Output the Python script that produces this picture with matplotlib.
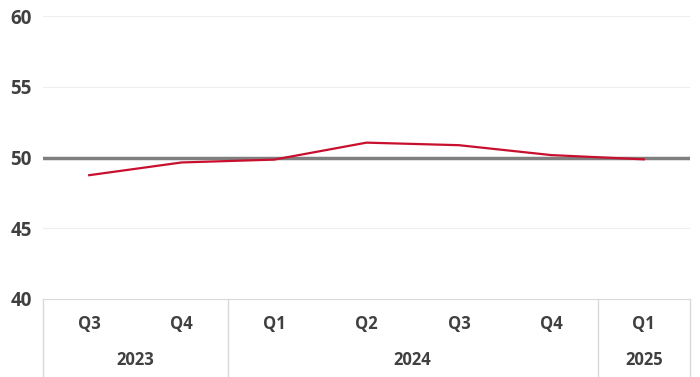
import numpy as np
import matplotlib
matplotlib.use("Agg")
from matplotlib import pyplot as plt
from matplotlib.transforms import blended_transform_factory

quarters = ["Q3", "Q4", "Q1", "Q2", "Q3", "Q4", "Q1"]
years = ["2023", "2024", "2025"]
year_spans = [(0, 1), (2, 5), (6, 6)]
pmi = [48.75, 49.65, 49.85, 51.05, 50.87, 50.17, 49.87]
threshold = 50

txt_color = "#404040"
grid_color = "#eeeeee"
plt.rcParams['font.family'] = ['Open Sans', 'DejaVu Sans']

fig = plt.figure(figsize=(7, 3.77), dpi=100)
ax = fig.add_axes([43/700, (377-299)/377, (690-43)/700, (299-16)/377])

x = np.arange(len(quarters))
ax.set_xlim(-0.5, len(quarters) - 0.5)
ax.set_ylim(40, 60)
ax.set_yticks([40, 45, 50, 55, 60])
for yv in [45, 55, 60]:
    ax.axhline(yv, color=grid_color, lw=0.8, zorder=0)
ax.axhline(threshold, color="#7f7f7f", lw=2.5, zorder=2)
ax.plot(x, pmi, color="#c8102e", lw=1.6, zorder=3)

for s in ["top", "right", "left"]:
    ax.spines[s].set_visible(False)
ax.spines["bottom"].set_color("#d9d9d9")
ax.tick_params(axis="y", length=0, pad=8, labelsize=13.5, labelcolor=txt_color)
for lab in ax.get_yticklabels():
    lab.set_fontweight("bold")
ax.set_xticks([])

# two-level category axis
trans = blended_transform_factory(ax.transData, ax.transAxes)
for i, q in enumerate(quarters):
    ax.text(i, -0.09, q, transform=trans, ha="center", va="center",
            fontsize=12, fontweight="bold", color=txt_color, clip_on=False)
for yr, (a, b) in zip(years, year_spans):
    ax.text((a + b) / 2, -0.215, yr, transform=trans, ha="center", va="center",
            fontsize=12, fontweight="bold", color=txt_color, clip_on=False)
bounds = [-0.5] + [b + 0.5 for _, b in year_spans]
for bx in bounds:
    ax.plot([bx, bx], [0, -0.3], transform=trans, color="#d9d9d9", lw=1,
            clip_on=False)

fig.savefig("out.png", dpi=100)
